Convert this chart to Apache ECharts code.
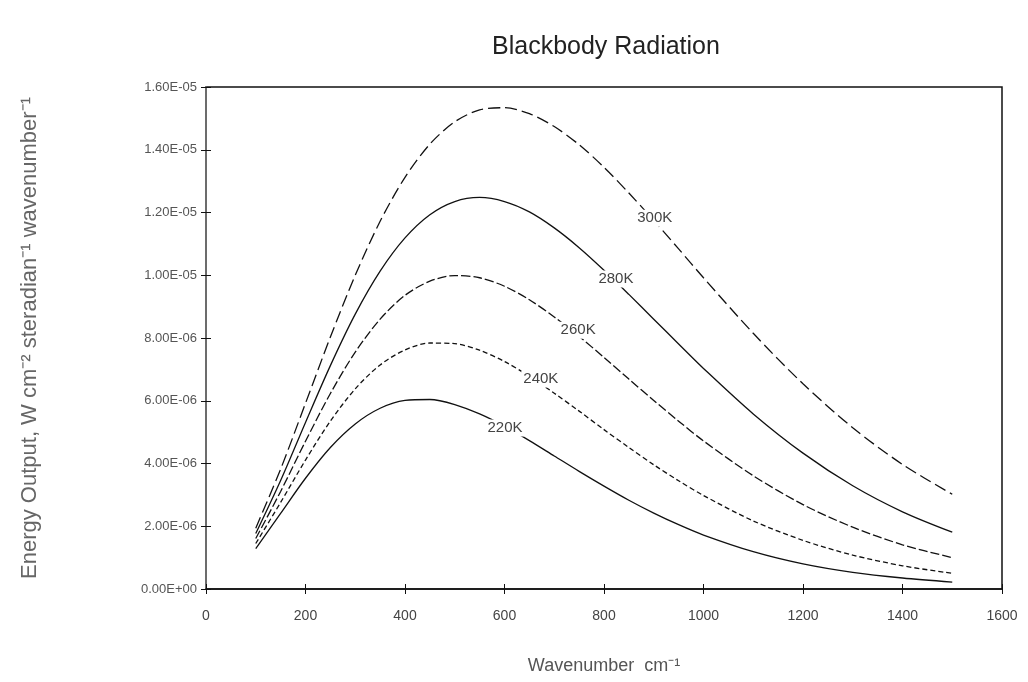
<!DOCTYPE html>
<html>
<head>
<meta charset="utf-8">
<title>Blackbody Radiation</title>
<script src="https://cdn.jsdelivr.net/npm/echarts@6/dist/echarts.min.js"></script>
<style>
  html, body { margin: 0; padding: 0; background: #fff; }
  #chart { width: 1028px; height: 682px; }
</style>
</head>
<body>
<div id="chart"></div>
<script>
// wavenumber, cm-1
var wavenumbers = [100, 150, 200, 250, 300, 350, 400, 450, 500, 550, 600, 650, 700, 750, 800, 850, 900, 950, 1000, 1100, 1200, 1300, 1400, 1500];
// energy output
var k300 = [1.94e-6, 3.82e-6, 5.92e-6, 8.03e-6, 1.000e-5, 1.172e-5, 1.312e-5, 1.418e-5, 1.489e-5, 1.527e-5, 1.534e-5, 1.515e-5, 1.474e-5, 1.416e-5, 1.344e-5, 1.262e-5, 1.175e-5, 1.084e-5, 9.92e-6, 8.15e-6, 6.54e-6, 5.14e-6, 3.97e-6, 3.02e-6];
var k280 = [1.77e-6, 3.46e-6, 5.31e-6, 7.12e-6, 8.76e-6, 1.013e-5, 1.119e-5, 1.193e-5, 1.235e-5, 1.248e-5, 1.235e-5, 1.202e-5, 1.151e-5, 1.088e-5, 1.016e-5, 9.39e-6, 8.60e-6, 7.81e-6, 7.03e-6, 5.58e-6, 4.33e-6, 3.29e-6, 2.46e-6, 1.81e-6];
var k260 = [1.61e-6, 3.11e-6, 4.71e-6, 6.23e-6, 7.55e-6, 8.60e-6, 9.36e-6, 9.81e-6, 9.99e-6, 9.92e-6, 9.65e-6, 9.22e-6, 8.67e-6, 8.05e-6, 7.38e-6, 6.69e-6, 6.01e-6, 5.35e-6, 4.72e-6, 3.61e-6, 2.69e-6, 1.97e-6, 1.41e-6, 1.00e-6];
var k240 = [1.45e-6, 2.76e-6, 4.11e-6, 5.35e-6, 6.38e-6, 7.14e-6, 7.62e-6, 7.84e-6, 7.82e-6, 7.61e-6, 7.25e-6, 6.78e-6, 6.24e-6, 5.67e-6, 5.08e-6, 4.51e-6, 3.96e-6, 3.45e-6, 2.98e-6, 2.17e-6, 1.55e-6, 1.08e-6, 7.4e-7, 5.0e-7];
var k220 = [1.29e-6, 2.41e-6, 3.53e-6, 4.51e-6, 5.26e-6, 5.76e-6, 6.01e-6, 6.04e-6, 5.88e-6, 5.58e-6, 5.19e-6, 4.73e-6, 4.24e-6, 3.75e-6, 3.28e-6, 2.83e-6, 2.42e-6, 2.05e-6, 1.72e-6, 1.19e-6, 8.0e-7, 5.3e-7, 3.5e-7, 2.2e-7];
var seriesNames = ['300K', '280K', '260K', '240K', '220K'];
var yTickLabels = ['0.00E+00', '2.00E-06', '4.00E-06', '6.00E-06', '8.00E-06', '1.00E-05', '1.20E-05', '1.40E-05', '1.60E-05'];

var font = 'Liberation Sans, Arial, sans-serif';

var pairs = function (ys) {
  return wavenumbers.map(function (x, i) { return [x, ys[i]]; });
};

var curve = function (name, ys, dash, at) {
  return {
    name: name,
    type: 'line',
    data: pairs(ys),
    smooth: 0.3,
    symbol: 'none',
    silent: true,
    lineStyle: { color: '#111', width: 1.3, type: dash },
    markPoint: {
      symbol: 'rect',
      symbolSize: 1,
      itemStyle: { color: 'transparent' },
      label: {
        show: true,
        position: 'inside',
        formatter: name,
        fontFamily: font,
        fontSize: 15,
        color: '#444',
        backgroundColor: '#fff',
        padding: [1, 2]
      },
      data: [{ coord: at }]
    }
  };
};

var myChart = echarts.init(document.getElementById('chart'));
var option = {
  backgroundColor: '#fff',
  animation: false,
  title: {
    text: 'Blackbody Radiation',
    left: 487,
    top: 30,
    textStyle: { fontFamily: font, fontSize: 25, fontWeight: 'normal', color: '#222' }
  },
  grid: {
    left: 206,
    right: 26,
    top: 87,
    bottom: 93,
    show: true,
    borderColor: '#111',
    borderWidth: 1.5
  },
  xAxis: [
    {
      type: 'value',
      min: 0,
      max: 1600,
      interval: 200,
      name: 'Wavenumber  cm\u207B\u00B9',
      nameLocation: 'middle',
      nameGap: 68,
      nameTextStyle: { fontFamily: font, fontSize: 18, color: '#555' },
      axisLine: { lineStyle: { color: '#111', width: 1.5 } },
      axisTick: { length: 5, lineStyle: { color: '#111' } },
      axisLabel: {
        fontFamily: font,
        fontSize: 14,
        color: '#444',
        margin: 20,
        formatter: function (v) { return String(v); }
      },
      splitLine: { show: false }
    },
    {
      type: 'value',
      min: 0,
      max: 1600,
      interval: 200,
      position: 'bottom',
      axisLine: { show: false },
      axisTick: { inside: true, length: 5, lineStyle: { color: '#111' } },
      axisLabel: { show: false },
      splitLine: { show: false }
    }
  ],
  yAxis: [
    {
      type: 'value',
      min: 0,
      max: 1.6e-5,
      interval: 2e-6,
      name: 'Energy Output, W cm\u207B\u00B2 steradian\u207B\u00B9 wavenumber\u207B\u00B9',
      nameLocation: 'middle',
      nameGap: 165,
      nameTextStyle: { fontFamily: font, fontSize: 22, color: '#666' },
      axisLine: { lineStyle: { color: '#777', width: 1.5 } },
      axisTick: { length: 5, lineStyle: { color: '#111' } },
      axisLabel: {
        fontFamily: font,
        fontSize: 13,
        color: '#555',
        margin: 9,
        formatter: function (v) { return yTickLabels[Math.round(v / 2e-6)]; }
      },
      splitLine: { show: false }
    },
    {
      type: 'value',
      min: 0,
      max: 1.6e-5,
      interval: 2e-6,
      position: 'left',
      axisLine: { show: false },
      axisTick: { inside: true, length: 5, lineStyle: { color: '#111' } },
      axisLabel: { show: false },
      splitLine: { show: false }
    }
  ],
  series: [
    curve(seriesNames[0], k300, [12, 5], [902, 1.182e-5]),
    curve(seriesNames[1], k280, 'solid', [824, 9.88e-6]),
    curve(seriesNames[2], k260, [9, 3], [748, 8.25e-6]),
    curve(seriesNames[3], k240, [5, 3], [673, 6.69e-6]),
    curve(seriesNames[4], k220, 'solid', [601, 5.13e-6])
  ]
};
myChart.setOption(option);
</script>
</body>
</html>
